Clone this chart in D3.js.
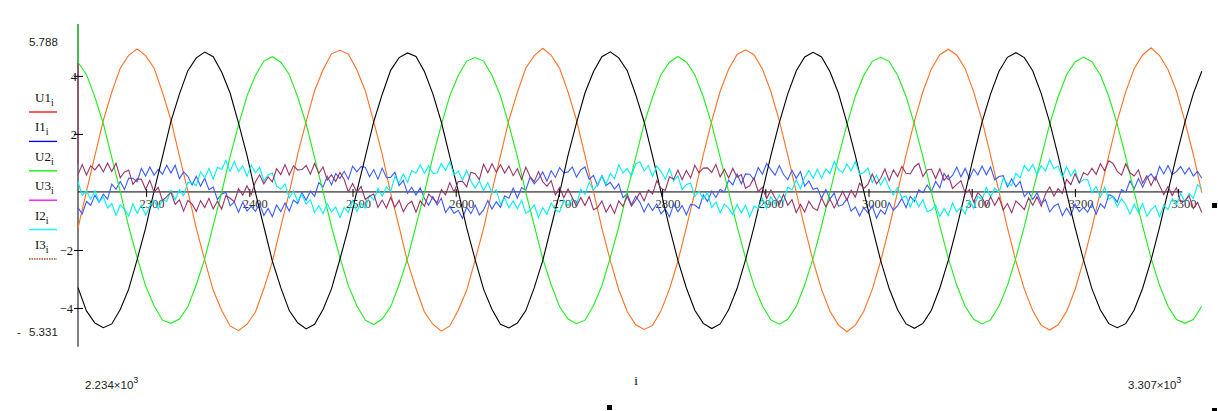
<!DOCTYPE html>
<html>
<head>
<meta charset="utf-8">
<script src="https://cdn.jsdelivr.net/npm/d3@7"></script>
<style>
body { margin: 0; background: #fff; }
</style>
</head>
<body>
<div id="chart"></div>
<script>
// index range and value limits of the plot
var iStart = 2234, iEnd = 3307;
var yMin = -5.331, yMax = 5.788;
var xTicks = [2300, 2400, 2500, 2600, 2700, 2800, 2900, 3000, 3100, 3200, 3300];
var yTicks = [-4, -2, 2, 4];
var traceNames = ["U1", "I1", "U2", "U3", "I2", "I3"];

// sample spacing of the traces (index units)
var bigStep = 8.1875, smallStep = 4.09375;

// voltages
var U1 = [-1.25,0.02,1.25,2.47,3.44,4.26,4.71,
4.93,4.70,4.27,3.43,2.48,1.24,0.03,-1.26,-2.35,-3.39,-4.08,-4.62,-4.78,-4.56,-4.14,-3.33,-2.41,-1.20,-0.03,1.30,2.42,3.49,4.21,4.76,
4.88,4.75,4.21,3.49,2.42,1.30,-0.04,-1.20,-2.41,-3.33,-4.14,-4.56,-4.80,-4.62,-4.08,-3.39,-2.35,-1.26,0.04,1.24,2.48,3.43,4.27,4.70,
4.95,4.71,4.26,3.44,2.47,1.25,0.02,-1.25,-2.37,-3.37,-4.12,-4.58,-4.74,-4.60,-4.10,-3.35,-2.39,-1.22,-0.02,1.28,2.44,3.47,4.23,4.74,
4.90,4.73,4.24,3.46,2.45,1.27,0.00,-1.23,-2.38,-3.36,-4.11,-4.59,-4.82,-4.59,-4.11,-3.36,-2.38,-1.23,0.00,1.27,2.45,3.46,4.24,4.73,
4.92,4.72,4.25,3.45,2.46,1.26,0.01,-1.24,-2.39,-3.35,-4.10,-4.60,-4.76,-4.58,-4.12,-3.37,-2.37,-1.24,0.01,1.26,2.46,3.45,4.25,4.72,
4.97,4.70,4.22,3.48,2.43,1.29,-0.02];

var U2 = [4.47,4.05,3.27,2.35,1.18,0.02,-1.20,-2.26,-3.24,-3.92,-4.42,-4.53,-4.38,-3.96,-3.20,-2.30,-1.16,-0.02,1.22,2.31,3.31,4.01,4.51,
4.66,4.47,4.05,3.27,2.35,1.18,0.02,-1.20,-2.26,-3.24,-3.92,-4.42,-4.57,-4.38,-3.96,-3.20,-2.30,-1.16,-0.02,1.22,2.31,3.31,4.01,4.51,
4.63,4.51,4.01,3.31,2.31,1.22,-0.02,-1.16,-2.30,-3.20,-3.96,-4.38,-4.54,-4.42,-3.92,-3.24,-2.26,-1.20,0.02,1.18,2.35,3.27,4.05,4.47,
4.67,4.48,4.04,3.28,2.34,1.19,0.01,-1.19,-2.27,-3.23,-3.93,-4.41,-4.56,-4.39,-3.95,-3.21,-2.29,-1.17,-0.01,1.21,2.32,3.30,4.02,4.50,
4.64,4.50,4.02,3.30,2.32,1.21,-0.01,-1.17,-2.29,-3.21,-3.95,-4.39,-4.55,-4.41,-3.93,-3.23,-2.27,-1.19,0.01,1.19,2.34,3.28,4.04,4.48,
4.65,4.49,4.03,3.29,2.33,1.20,0.00,-1.18,-2.28,-3.22,-3.94,-4.40,-4.53,-4.40,-3.94];

var U3 = [-3.30,-4.10,-4.52,-4.68,-4.55,-4.05,-3.35,-2.33,-1.25,0.03,1.22,2.43,3.37,4.18,4.62,
4.82,4.66,4.13,3.41,2.37,1.26,-0.02,-1.20,-2.38,-3.30,-4.09,-4.51,-4.72,-4.56,-4.05,-3.34,-2.32,-1.24,0.02,1.21,2.42,3.36,4.19,4.63,
4.79,4.67,4.15,3.38,2.41,1.22,0.03,-1.24,-2.33,-3.35,-4.05,-4.56,-4.69,-4.52,-4.09,-3.30,-2.37,-1.20,-0.03,1.27,2.38,3.41,4.14,4.66,
4.83,4.62,4.18,3.36,2.42,1.23,-0.01,-1.23,-2.36,-3.31,-4.08,-4.53,-4.71,-4.55,-4.06,-3.33,-2.34,-1.21,0.01,1.25,2.39,3.38,4.17,4.65,
4.81,4.65,4.14,3.40,2.38,1.25,0.02,-1.21,-2.37,-3.33,-4.06,-4.55,-4.70,-4.53,-4.08,-3.31,-2.36,-1.23,-0.02,1.23,2.41,3.37,4.16,4.64,
4.80,4.63,4.17,3.39,2.40,1.24,-0.03,-1.22,-2.34,-3.34,-4.07,-4.54,-4.68,-4.54,-4.07,-3.32,-2.35,-1.22,0.01,1.24,2.40,3.39,4.16];

// currents
var I1 = [-0.54,-0.76,-0.33,-0.46,-0.11,-0.35,-0.08,-0.25,0.27,0.09,0.36,0.09,0.48,0.47,0.35,0.81,0.55,0.86,0.58,0.78,
0.61,0.92,0.65,0.92,0.46,0.69,0.54,0.24,0.54,0.20,0.47,0.08,0.17,-0.26,-0.07,-0.02,-0.48,-0.35,-0.70,-0.35,-0.66,-0.50,-0.67,-0.41,-0.81,-0.57,-0.85,-0.45,-0.68,-0.38,-0.66,-0.28,-0.40,-0.02,-0.29,0.03,-0.15,0.32,0.17,0.54,0.24,0.63,0.46,0.71,0.44,0.89,0.69,0.87,
0.85,0.52,0.77,0.44,0.82,0.49,0.50,0.68,0.22,0.40,-0.05,0.16,-0.11,0.14,-0.23,-0.46,-0.16,-0.45,-0.22,-0.71,-0.50,-0.74,-0.63,-0.91,-0.53,-0.75,-0.45,-0.79,-0.62,-0.30,-0.59,-0.34,-0.53,-0.13,-0.22,0.13,-0.21,0.15,0.06,0.51,0.28,0.45,0.69,0.37,0.73,0.50,0.84,0.66,
0.69,0.86,0.51,0.76,0.86,0.43,0.57,0.22,0.56,0.22,0.33,0.10,0.28,-0.20,-0.06,-0.44,-0.15,-0.36,-0.69,-0.40,-0.64,-0.41,-0.76,-0.59,-0.86,-0.42,-0.68,-0.47,-0.79,-0.43,-0.45,-0.57,-0.10,-0.33,0.03,-0.19,0.09,0.00,0.41,0.24,0.62,0.28,0.62,0.61,0.42,0.84,0.61,0.98,
0.77,0.58,0.91,0.60,0.42,0.75,0.47,0.70,0.20,0.38,0.09,0.14,-0.22,0.08,-0.24,-0.04,-0.49,-0.44,-0.23,-0.66,-0.52,-0.83,-0.54,-0.73,-0.48,-0.90,-0.62,-0.77,-0.37,-0.63,-0.47,-0.23,-0.54,-0.15,-0.33,0.07,-0.03,0.24,0.01,0.36,0.14,0.64,0.42,0.57,0.86,0.52,0.81,0.46,
0.79,0.59,0.89,0.59,0.86,0.42,0.53,0.56,0.17,0.45,0.18,0.36,-0.16,0.01,-0.26,-0.03,-0.38,-0.27,-0.69,-0.49,-0.41,-0.82,-0.56,-0.80,-0.42,-0.68,-0.53,-0.70,-0.40,-0.77,-0.41,-0.56,-0.10,-0.16,-0.35,0.08,-0.01,0.38,0.11,0.46,0.16,0.48,0.62,0.41,0.88,0.62,0.91,0.60,
0.70,0.88,0.62,0.83,0.55,0.71,0.47];

var I2 = [0.35,-0.12,0.04,-0.25,0.04,-0.35,-0.17,-0.55,-0.40,-0.81,-0.45,-0.60,-0.83,-0.41,-0.74,-0.46,-0.80,-0.49,-0.29,-0.58,-0.25,-0.33,0.06,-0.27,0.08,-0.13,0.33,0.32,0.22,0.69,0.48,0.81,0.45,0.85,0.77,1.09,0.71,
1.05,0.70,0.90,0.54,0.92,0.66,0.85,0.38,0.59,0.65,0.20,0.10,0.28,-0.21,0.03,-0.33,-0.08,-0.42,-0.26,-0.71,-0.47,-0.75,-0.40,-0.69,-0.52,-0.88,-0.53,-0.71,-0.30,-0.67,-0.39,-0.56,-0.12,-0.28,0.12,-0.15,0.17,0.01,0.53,0.31,0.62,0.33,0.74,0.65,0.94,0.64,0.90,0.64,
0.65,0.98,0.74,1.04,0.58,0.72,0.41,0.74,0.37,0.13,0.38,0.05,0.32,-0.04,0.07,-0.42,-0.21,-0.55,-0.31,-0.58,-0.29,-0.73,-0.64,-0.45,-0.89,-0.54,-0.78,-0.38,-0.61,-0.69,-0.28,-0.47,-0.23,-0.44,0.09,-0.08,0.33,0.07,0.26,0.56,0.27,0.64,0.45,0.93,0.65,0.81,0.55,0.97,
1.04,0.72,0.91,0.53,0.89,0.71,0.44,0.80,0.38,0.55,0.08,0.26,0.30,-0.15,0.02,-0.24,-0.03,-0.54,-0.35,-0.72,-0.42,-0.56,-0.79,-0.43,-0.73,-0.46,-0.86,-0.49,-0.57,-0.22,-0.56,-0.16,-0.42,-0.11,-0.34,0.17,0.07,0.42,0.11,0.50,0.74,0.47,0.78,0.47,0.79,0.63,1.05,0.77,
0.66,0.96,0.73,1.05,0.61,0.67,0.82,0.32,0.58,0.23,0.50,0.14,-0.10,0.15,-0.20,-0.14,-0.53,-0.18,-0.51,-0.26,-0.68,-0.62,-0.45,-0.85,-0.57,-0.82,-0.38,-0.69,-0.53,-0.76,-0.30,-0.56,-0.14,-0.27,0.16,-0.17,0.13,-0.02,0.47,0.28,0.22,0.65,0.48,0.91,0.71,0.95,0.59,0.91,
0.72,1.11,0.80,0.89,0.51,0.87,0.55,0.77,0.31,0.42,0.42,-0.03,0.18,-0.18,0.16,-0.24,-0.17,-0.51,-0.23,-0.43,-0.76,-0.43,-0.72,-0.40,-0.84,-0.62,-0.48,-0.85,-0.46,-0.61,-0.24,-0.43,-0.05,-0.35,-0.05,-0.22,0.25,0.11];

var I3 = [0.60,0.94,0.58,0.90,0.76,
0.95,0.69,1.00,0.70,0.99,0.49,0.69,0.75,0.26,0.45,0.44,0.09,0.40,-0.01,0.16,-0.30,-0.16,-0.01,-0.43,-0.27,-0.66,-0.29,-0.42,-0.67,-0.30,-0.54,-0.22,-0.59,-0.32,-0.59,-0.13,-0.22,-0.34,0.11,-0.11,0.21,-0.09,0.35,0.59,0.28,0.52,0.35,0.80,0.60,0.94,0.58,0.90,0.76,
0.77,0.91,0.61,0.98,0.64,0.86,0.41,0.59,0.36,0.67,0.43,0.00,0.29,-0.02,0.19,-0.26,-0.15,-0.07,-0.53,-0.28,-0.55,-0.19,-0.53,-0.29,-0.68,-0.43,-0.32,-0.70,-0.31,-0.49,-0.07,-0.23,-0.38,0.08,-0.10,0.32,0.00,0.36,0.37,0.18,0.68,0.63,0.43,0.95,0.66,0.97,0.68,0.94,
0.65,0.89,0.56,0.80,0.43,0.85,0.53,0.35,0.70,0.35,0.20,0.39,-0.10,0.15,-0.20,0.10,-0.20,-0.49,-0.19,-0.47,-0.16,-0.61,-0.54,-0.31,-0.70,-0.44,-0.74,-0.31,-0.50,-0.15,-0.49,-0.28,-0.02,-0.31,0.07,-0.07,0.39,0.13,0.05,0.52,0.44,0.75,0.42,0.74,0.48,0.92,0.66,0.82,
0.83,0.67,0.95,0.52,0.78,0.48,0.81,0.51,0.60,0.13,0.21,0.48,0.01,0.16,-0.23,0.06,-0.21,-0.43,-0.09,-0.46,-0.27,-0.71,-0.43,-0.69,-0.32,-0.55,-0.64,-0.20,-0.51,-0.25,-0.55,-0.27,0.02,-0.28,0.06,-0.18,0.30,0.12,0.27,0.62,0.28,0.47,0.79,0.39,0.76,0.53,0.88,0.64,
0.62,0.87,0.98,0.53,0.76,0.79,0.46,0.80,0.40,0.58,0.12,0.26,0.39,-0.05,0.08,-0.35,-0.02,-0.19,-0.49,-0.17,-0.46,-0.19,-0.62,-0.40,-0.72,-0.31,-0.45,-0.61,-0.20,-0.46,-0.17,-0.49,-0.07,0.17,-0.14,0.11,-0.05,0.43,0.25,0.63,0.31,0.67,0.58,0.82,0.61,0.97,0.73,1.07,
0.98,0.71,0.58,0.97,0.66,0.55,0.76,0.30,0.56,0.22,0.52,0.22,-0.09,0.19,-0.12,0.15,-0.34,-0.31,-0.13,-0.57,-0.36,-0.71];

// colours
var traceColors = {U1: "#ff7020", I1: "#3a5cff", U2: "#1aee1a", U3: "#000000", I2: "#00f0f0", I3: "#993366"};
var legendColors = {U1: "#ff0000", I1: "#0000ff", U2: "#00ee00", U3: "#ff00ff", I2: "#00ffff", I3: "#a0522d"};

// set the dimensions
var width = 1218, height = 411;

// set the ranges
var x = d3.scaleLinear().domain([iStart, iEnd]).range([78, 78 + (iEnd - iStart) * 1.032]);
var y = d3.scaleLinear().domain([yMin, yMax]).range([346.6, 24]);

var svg = d3.select("#chart").append("svg")
    .attr("width", width)
    .attr("height", height)
    .style("display", "block")
    .style("background", "#fff");

// axis lines
svg.append("line")
    .attr("x1", x(iStart)).attr("x2", x(iEnd) - 3)
    .attr("y1", y(0)).attr("y2", y(0))
    .attr("stroke", "#000");
svg.append("line")
    .attr("x1", x(iStart)).attr("x2", x(iStart))
    .attr("y1", y(yMax)).attr("y2", y(yMin))
    .attr("stroke", "#000");
// the top of the y axis is tinted by the traces
svg.append("line")
    .attr("x1", x(iStart)).attr("x2", x(iStart))
    .attr("y1", y(yMax)).attr("y2", y(4.45))
    .attr("stroke", traceColors.U2);
svg.append("line")
    .attr("x1", x(iStart)).attr("x2", x(iStart))
    .attr("y1", y(4.45)).attr("y2", y(0.95))
    .attr("stroke", traceColors.I3);

// Add the X Axis ticks
var gx = svg.append("g")
    .attr("transform", "translate(0," + y(0) + ")")
    .call(d3.axisBottom(x).tickValues(xTicks).tickFormat(d3.format("d")));
gx.select(".domain").remove();
gx.selectAll(".tick line").attr("y1", -3).attr("y2", 5).attr("stroke", "#000");
gx.selectAll(".tick text")
    .attr("x", 5.5).attr("y", 16).attr("dy", null)
    .style("font-family", "Liberation Serif, serif")
    .style("font-size", "12.5px")
    .attr("fill", "#333");

// Add the Y Axis ticks
var gy = svg.append("g")
    .attr("transform", "translate(" + x(iStart) + ",0)")
    .call(d3.axisLeft(y).tickValues(yTicks).tickFormat(function(d) { return d < 0 ? "\u2212" + (-d) : d; }));
gy.select(".domain").remove();
gy.selectAll(".tick line").attr("x1", -4).attr("x2", 5).attr("stroke", "#000");
gy.selectAll(".tick text")
    .attr("x", function(d) { return d < 0 ? -5 : -1; })
    .attr("dy", "0.36em")
    .style("font-family", "Liberation Serif, serif")
    .style("font-size", "12.5px")
    .attr("fill", "#111");

// limit labels
var sans = "Liberation Sans, Arial, sans-serif";
svg.append("text").attr("x", 29).attr("y", 46)
    .style("font-family", sans).style("font-size", "11.5px").attr("fill", "#222")
    .text(d3.format(".3f")(yMax));
svg.append("text").attr("x", 17).attr("y", 336)
    .style("font-family", sans).style("font-size", "11.5px").attr("fill", "#222")
    .text("-");
svg.append("text").attr("x", 29).attr("y", 336)
    .style("font-family", sans).style("font-size", "11.5px").attr("fill", "#222")
    .text(d3.format(".3f")(-yMin));

function limitLabel(v, px) {
    var t = svg.append("text").attr("x", px).attr("y", 389)
        .style("font-family", sans).style("font-size", "11.5px").attr("fill", "#222");
    t.append("tspan").text((v / 1000).toFixed(3) + "\u00d710");
    t.append("tspan").attr("dy", -6).style("font-size", "9px").text("3");
}
limitLabel(iStart, 85);
limitLabel(iEnd, 1128);

// axis name
svg.append("text").attr("x", 636).attr("y", 385).attr("text-anchor", "middle")
    .style("font-family", "Liberation Serif, serif").style("font-size", "13px")
    .text("i");

// legend
traceNames.forEach(function(name, k) {
    var ty = 102 + k * 29.4;
    var t = svg.append("text").attr("x", 35).attr("y", ty)
        .style("font-family", "Liberation Serif, serif").style("font-size", "13px").attr("fill", "#111");
    t.append("tspan").text(name);
    t.append("tspan").attr("dy", 4).style("font-size", "10px").text("i");
    svg.append("line")
        .attr("x1", 29).attr("x2", 57)
        .attr("y1", ty + 10).attr("y2", ty + 10)
        .attr("stroke", legendColors[name])
        .attr("stroke-width", 1.3)
        .attr("stroke-dasharray", name === "I3" ? "1.5,1" : null);
});

// traces, in drawing order
var traces = [
    {name: "U1", values: U1, step: bigStep},
    {name: "I1", values: I1, step: smallStep},
    {name: "U2", values: U2, step: bigStep},
    {name: "U3", values: U3, step: bigStep},
    {name: "I2", values: I2, step: smallStep},
    {name: "I3", values: I3, step: smallStep}
];

traces.forEach(function(tr) {
    var valueline = d3.line()
        .x(function(d, k) { return x(iStart + k * tr.step); })
        .y(function(d) { return y(d); });
    svg.append("path")
        .datum(tr.values)
        .attr("fill", "none")
        .attr("stroke", traceColors[tr.name])
        .attr("stroke-width", 1.1)
        .attr("d", valueline);
});

// region markers
[[607, 405], [1212, 203], [1212, 408]].forEach(function(p) {
    svg.append("rect").attr("x", p[0]).attr("y", p[1]).attr("width", 5).attr("height", 5).attr("fill", "#000");
});
</script>
</body>
</html>
